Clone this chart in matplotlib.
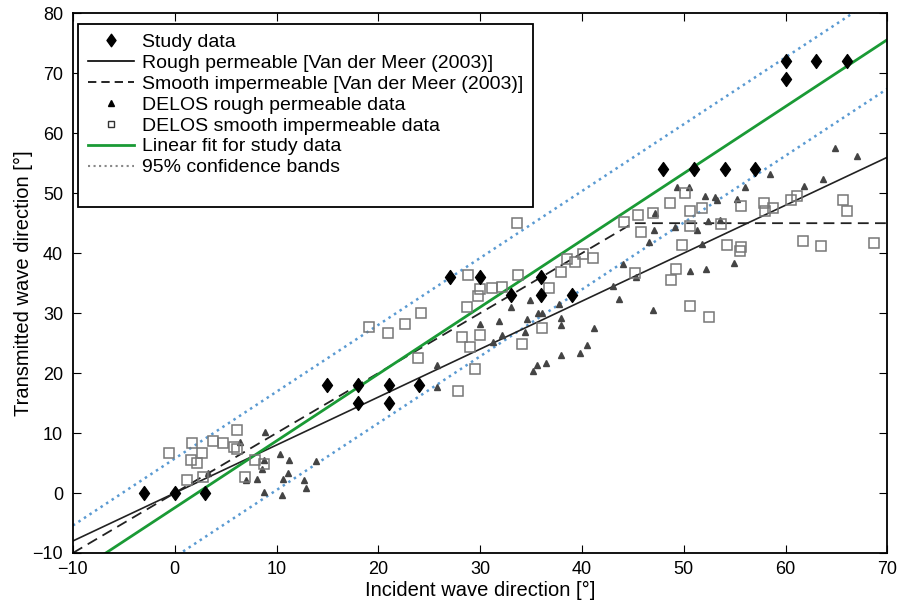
import numpy as np
import matplotlib
matplotlib.use("Agg")
import matplotlib.pyplot as plt
from matplotlib.lines import Line2D
from matplotlib.path import Path

plt.rcParams['font.family'] = ['Liberation Sans', 'DejaVu Sans']

# Study data (incident, transmitted) in degrees
study_x = [-3, 0, 3, 15, 18, 18, 21, 21, 24, 27, 30, 33, 36, 36, 39,
           48, 51, 54, 57, 60, 60, 63, 66]
study_y = [0, 0, 0, 18, 18, 15, 18, 15, 18, 36, 36, 33, 36, 33, 33,
           54, 54, 54, 54, 72, 69, 72, 72]

# DELOS rough permeable data (triangles)
rough_x = [6.4, 8.9, 10.3, 11.2, 8.6, 8.8, 8.1, 7.0, 8.8, 10.5, 11.1, 10.6, 12.7, 12.9, 13.9, 3.3,
           25.8, 25.8, 30.0, 31.9, 32.1, 33.0, 34.9, 34.6, 35.7, 36.1, 34.4, 37.9, 37.9, 37.7, 31.3,
           35.2, 35.6, 36.5, 37.9, 39.8, 40.5, 41.2,
           43.0, 43.6, 44.0, 45.3, 47.0,
           47.2, 47.1, 46.6, 49.1, 49.3, 50.5, 51.3, 52.1, 52.4, 53.1, 53.3, 53.6, 55.2, 56.0,
           50.6, 52.2, 54.9, 51.8, 58.5, 61.8, 63.7, 64.9, 67.0]
rough_y = [8.5, 10.1, 6.5, 5.5, 4.0, 5.5, 2.3, 2.2, 0.2, -0.3, 3.4, 2.4, 2.1, 0.9, 5.3, 3.4,
           21.3, 17.7, 28.2, 28.7, 26.3, 31.1, 32.2, 29.1, 30.1, 30.0, 26.8, 29.2, 28.1, 31.6, 25.2,
           20.4, 21.3, 21.7, 23.0, 23.3, 24.7, 27.6,
           34.5, 32.4, 38.2, 36.0, 30.6,
           46.7, 43.8, 41.8, 44.4, 51.0, 51.1, 43.9, 49.6, 45.4, 49.3, 48.9, 45.5, 49.0, 51.0,
           37.1, 37.3, 38.3, 41.5, 53.2, 51.2, 52.3, 57.5, 56.2]

# DELOS smooth impermeable data (open squares)
smooth_x = [-0.6, 1.7, 2.7, 1.6, 2.2, 1.2, 3.8, 4.7, 6.1, 5.8, 6.1, 6.9, 7.9, 8.8, 2.8,
            19.1, 20.9, 22.6, 24.2, 23.9, 27.8, 29.5, 29.0, 28.2, 30.0, 28.7, 29.8, 30.0, 28.8,
            31.2, 32.1, 33.7, 33.6, 36.8, 37.9, 38.5, 39.3, 40.1, 41.1, 36.1, 34.1,
            44.1, 45.5, 47.0, 45.8, 48.6, 50.1, 50.6, 51.8, 50.6, 53.7, 55.6, 49.8, 54.2, 55.6,
            55.5, 45.2, 49.2, 48.7, 50.6, 52.5,
            65.6, 66.0, 61.7, 63.5, 68.7, 61.1, 60.5, 57.9, 58.8, 58.0]
smooth_y = [6.6, 8.4, 6.7, 5.5, 5.0, 2.2, 8.7, 8.3, 10.5, 7.7, 7.4, 2.7, 5.5, 4.9, 2.7,
            27.7, 26.7, 28.2, 30.0, 22.5, 17.0, 20.6, 24.3, 26.1, 26.3, 31.1, 32.9, 34.1, 36.4,
            34.2, 34.3, 36.3, 45.1, 34.2, 36.8, 39.1, 38.5, 39.9, 39.2, 27.6, 24.8,
            45.2, 46.4, 46.7, 43.6, 48.4, 50.0, 47.1, 47.6, 44.6, 44.9, 47.9, 41.3, 41.4, 41.0,
            40.4, 36.7, 37.3, 35.6, 31.2, 29.3,
            48.9, 47.1, 42.1, 41.2, 41.7, 49.6, 48.9, 48.4, 47.6, 47.1]

# Van der Meer (2003) relations and band half-width
rough_factor = 0.8
smooth_limit = 45
band_halfwidth = 8.2

xline = np.linspace(-10, 70, 400)
slope, intercept = np.polyfit(study_x, study_y, 1)
fit = slope * xline + intercept

# MATLAB-like diamond (a bit wider than 'd')
diamond = Path([(0, 1), (0.72, 0), (0, -1), (-0.72, 0), (0, 1)],
               [Path.MOVETO, Path.LINETO, Path.LINETO, Path.LINETO, Path.CLOSEPOLY])

fig, ax = plt.subplots(figsize=(9, 6.05), dpi=100)
fig.subplots_adjust(left=0.081, right=0.986, bottom=0.086, top=0.978)

band_color = '#5a9ad2'
green = '#1a9a35'
ax.plot(xline, fit + band_halfwidth, ':', color=band_color, lw=1.8)
ax.plot(xline, fit - band_halfwidth, ':', color=band_color, lw=1.8)
ax.plot(xline, rough_factor * xline, '-', color='#222222', lw=1.2)
ax.plot(xline, np.minimum(xline, smooth_limit), '--', color='#222222', lw=1.3, dashes=(6, 3.5))
ax.plot(xline, fit, '-', color=green, lw=2)

ax.plot(rough_x, rough_y, '^', color='#444444', markersize=5, linestyle='none')
ax.plot(smooth_x, smooth_y, 's', markerfacecolor='none', markeredgecolor='#777777',
        markeredgewidth=1.1, markersize=6.5, linestyle='none')
ax.plot(study_x, study_y, marker=diamond, color='black', markersize=10, linestyle='none')

ax.set_xlim(-10, 70)
ax.set_ylim(-10, 80)
ax.set_xticks(range(-10, 71, 10))
ax.set_yticks(range(-10, 81, 10))
ax.tick_params(direction='in', top=True, right=True, length=6, labelsize=13)
ax.tick_params(axis='x', pad=6)
ax.tick_params(axis='y', pad=7)
for s in ax.spines.values():
    s.set_linewidth(1.3)

ax.set_xlabel('Incident wave direction [°]', fontsize=14.5, labelpad=2)
ax.set_ylabel('Transmitted wave direction [°]', fontsize=14.5, labelpad=0)

handles = [
    Line2D([], [], marker=diamond, color='black', linestyle='none', markersize=9),
    Line2D([], [], color='black', lw=1.2),
    Line2D([], [], color='black', lw=1.2, linestyle='--', dashes=(5, 3)),
    Line2D([], [], marker='^', color='black', linestyle='none', markersize=5),
    Line2D([], [], marker='s', markerfacecolor='none', markeredgecolor='#333333', linestyle='none', markersize=5),
    Line2D([], [], color=green, lw=2),
    Line2D([], [], color='#888888', lw=1.5, linestyle=':'),
    Line2D([], [], linestyle='none'),
]
labels = ['Study data', 'Rough permeable [Van der Meer (2003)]',
          'Smooth impermeable [Van der Meer (2003)]', 'DELOS rough permeable data',
          'DELOS smooth impermeable data', 'Linear fit for study data', '95% confidence bands', ' ']
leg = ax.legend(handles, labels, loc='upper left', bbox_to_anchor=(0.006, 0.981),
                fontsize=14, handlelength=2.4, handletextpad=0.4, labelspacing=0.17,
                borderpad=0.5, borderaxespad=0, fancybox=False, framealpha=1, edgecolor='black')
leg.get_frame().set_linewidth(1.3)

plt.savefig('out.png', dpi=100)
